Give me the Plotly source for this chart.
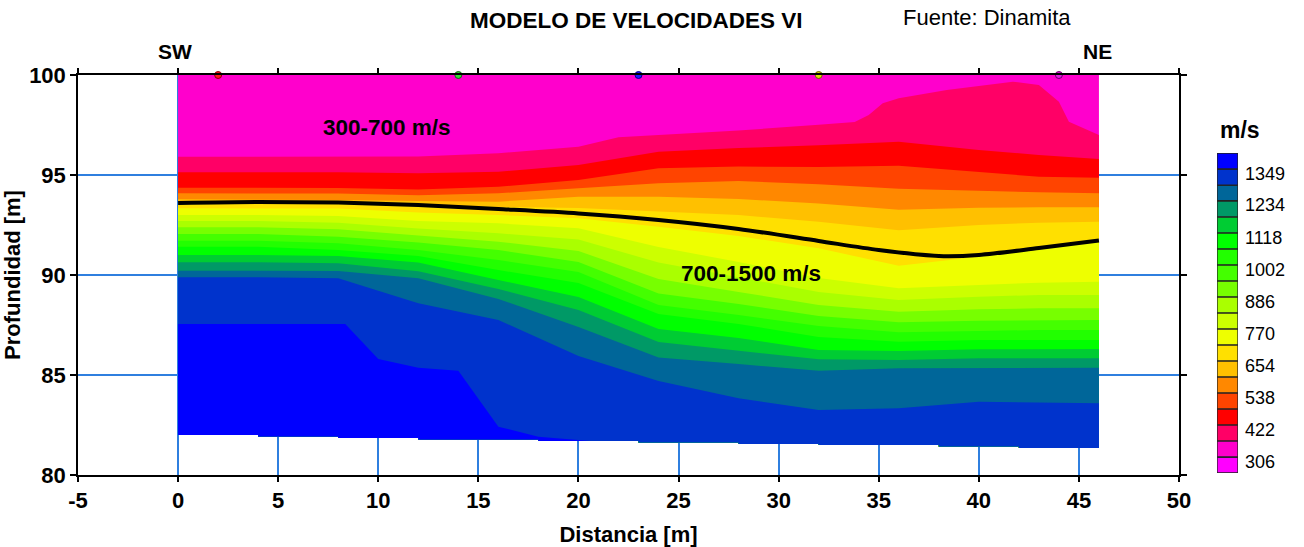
import plotly.graph_objects as go

# ---------------- data ----------------
# stations along the profile (m) shared by most iso-velocity interfaces
station_x = [0, 4, 8, 12, 16, 20, 24, 28, 32, 36, 40, 43, 46]

# depth (m) of each iso-velocity interface at the stations
iface_422 = [95.135, 95.135, 95.135, 95.085, 95.165, 95.5, 96.165, 96.35, 96.485, 96.665, 96.25, 96.0, 95.8]
iface_480 = [94.365, 94.365, 94.35, 94.275, 94.415, 94.75, 95.335, 95.425, 95.4, 95.465, 95.165, 94.915, 94.865]
iface_538 = [94.085, 94.085, 94.075, 93.985, 94.085, 94.335, 94.585, 94.7, 94.535, 94.315, 94.2, 94.135, 94.085]
iface_596 = [93.785, 93.785, 93.75, 93.7, 93.665, 93.915, 93.915, 93.8, 93.575, 93.265, 93.365, 93.385, 93.385]
iface_654 = [93.65, 93.65, 93.625, 93.55, 93.4, 93.35, 93.165, 93.0, 92.665, 92.235, 92.5, 92.615, 92.665]
iface_712 = [93.335, 93.335, 93.325, 93.125, 93.0, 92.835, 92.415, 91.95, 91.335, 90.465, 90.915, 91.415, 91.665]
iface_770 = [93.0, 93.0, 92.95, 92.7, 92.585, 92.335, 91.4, 90.65, 89.85, 89.335, 89.5, 89.615, 89.665]
iface_828 = [92.7, 92.7, 92.615, 92.325, 92.085, 91.775, 90.625, 89.9, 89.15, 88.75, 88.915, 89.0, 89.0]
iface_886 = [92.385, 92.385, 92.285, 91.975, 91.665, 91.2, 89.8, 89.15, 88.5, 88.165, 88.285, 88.335, 88.335]
iface_944 = [92.05, 92.05, 91.915, 91.625, 91.25, 90.65, 89.075, 88.55, 87.95, 87.635, 87.715, 87.75, 87.75]
iface_1002 = [91.715, 91.715, 91.585, 91.25, 90.75, 90.15, 88.5, 88.0, 87.45, 87.135, 87.2, 87.25, 87.25]
iface_1060 = [91.415, 91.415, 91.25, 90.95, 90.25, 89.6, 88.05, 87.55, 86.9, 86.665, 86.75, 86.75, 86.75]
iface_1118 = [91.0, 91.0, 90.95, 90.625, 89.75, 88.9, 87.3, 86.85, 86.25, 86.2, 86.285, 86.3, 86.3]
iface_1176 = [90.635, 90.635, 90.585, 90.185, 89.3, 88.25, 86.65, 86.215, 85.785, 85.75, 85.835, 85.835, 85.835]
iface_1234 = [90.215, 90.215, 90.2, 89.835, 88.8, 87.4, 85.875, 85.55, 85.215, 85.335, 85.35, 85.365, 85.365]
iface_1291 = [89.885, 89.885, 89.835, 88.585, 87.75, 85.95, 84.7, 83.835, 83.25, 83.335, 83.665, 83.615, 83.585]

# interfaces with their own stations
iface_364_x = [0, 8, 12, 16, 20, 22, 24, 28, 32, 33.8, 34.5, 35.2, 36, 38.4, 41.7, 43, 44, 44.5, 46]
iface_364 = [95.915, 95.915, 95.925, 96.085, 96.415, 96.885, 97.0, 97.225, 97.515, 97.65, 98.0,
             98.585, 98.835, 99.25, 99.665, 99.5, 98.665, 97.665, 97.0]
iface_1349_x = [0, 8.35, 10, 12, 14, 16, 18, 20.6]
iface_1349 = [87.55, 87.55, 85.8, 85.365, 85.215, 82.415, 81.915, 81.7]

# stepped bottom of the model
bottom_x = [0, 4, 8, 12, 18, 23, 28, 32, 38, 42, 46]
bottom_depth = [82.0, 81.92, 81.85, 81.78, 81.7, 81.63, 81.55, 81.5, 81.43, 81.35]
top_depth = 100

# 700 m/s refractor (black line)
refractor_x = [0, 4, 8, 12, 16, 20, 24, 28, 32, 35, 38, 40, 43, 46]
refractor_depth = [93.6, 93.65, 93.62, 93.5, 93.3, 93.08, 92.75, 92.3, 91.7, 91.25, 90.95, 91.0, 91.35, 91.72]

# shot points
shot_x = [2, 14, 23, 32, 44]
shot_colors = ['#ff1a1a', '#33dd33', '#1a1aff', '#dddd00', '#dd22dd']
shot_edges = ['#880000', '#116611', '#000088', '#666600', '#660066']

# colour scale (m/s)
cb_levels = [248, 306, 364, 422, 480, 538, 596, 654, 712, 770, 828, 886, 944, 1002,
             1060, 1118, 1176, 1234, 1291, 1349, 1407]
cb_colors = ['#FF00FF', '#FF00CC', '#FF0066', '#FF0000', '#FF4400', '#FF8800', '#FFC000',
             '#FFE000', '#EEFF00', '#CCFF00', '#AAFF00', '#77FF00', '#44FF00', '#22FF00',
             '#00FF00', '#00CC33', '#009966', '#006699', '#0033CC', '#0000FF']
cb_labels = [306, 422, 538, 654, 770, 886, 1002, 1118, 1234, 1349]

# axis ticks
x_ticks = [-5, 0, 5, 10, 15, 20, 25, 30, 35, 40, 45, 50]
y_ticks = [80, 85, 90, 95, 100]

# ---------------- build figure ----------------
FONT = 'Liberation Sans, Arial, sans-serif'
FS = 22


def bottom_between(xa, xb):
    pts = []
    for i in range(len(bottom_x) - 1):
        lo = max(bottom_x[i], xa)
        hi = min(bottom_x[i + 1], xb)
        if lo < hi:
            pts += [(lo, bottom_depth[i]), (hi, bottom_depth[i])]
    return pts


def band_polygon(xs, ds):
    bot = bottom_between(xs[0], xs[-1])[::-1]
    return list(xs) + [p[0] for p in bot], list(ds) + [p[1] for p in bot]


def color_of(v):
    return cb_colors[cb_levels.index(v)]


layers = [
    (306, [station_x[0], station_x[-1]], [top_depth, top_depth]),
    (364, iface_364_x, iface_364),
    (422, station_x, iface_422), (480, station_x, iface_480), (538, station_x, iface_538),
    (596, station_x, iface_596), (654, station_x, iface_654), (712, station_x, iface_712),
    (770, station_x, iface_770), (828, station_x, iface_828), (886, station_x, iface_886),
    (944, station_x, iface_944), (1002, station_x, iface_1002), (1060, station_x, iface_1060),
    (1118, station_x, iface_1118), (1176, station_x, iface_1176), (1234, station_x, iface_1234),
    (1291, station_x, iface_1291), (1349, iface_1349_x, iface_1349),
]

fig = go.Figure()
for v, xs, ds in layers:
    px, py = band_polygon(xs, ds)
    fig.add_trace(go.Scatter(x=px, y=py, mode='lines', fill='toself', fillcolor=color_of(v),
                             line=dict(width=0, color=color_of(v)), hoverinfo='skip',
                             showlegend=False))

fig.add_trace(go.Scatter(x=refractor_x, y=refractor_depth, mode='lines',
                         line=dict(color='black', width=4, shape='spline', smoothing=0.8),
                         showlegend=False, hoverinfo='skip'))

fig.add_trace(go.Scatter(x=shot_x, y=[top_depth] * len(shot_x), mode='markers', cliponaxis=False,
                         marker=dict(color=shot_colors, size=7, line=dict(color=shot_edges, width=1)),
                         showlegend=False))

# colour bar as a stacked column on its own axes
fig.add_trace(go.Bar(x=['cb'] * len(cb_colors), y=[cb_levels[i + 1] - cb_levels[i] for i in range(len(cb_colors))],
                     base=cb_levels[:-1], width=1, marker=dict(color=cb_colors, line=dict(color='#222222', width=1.3)),
                     xaxis='x2', yaxis='y2', showlegend=False, hoverinfo='skip'))

GRID = '#2f7fdf'
tickfont = dict(family=FONT, size=FS, color='black', weight='bold')
label_shift = 16  # labels sit slightly below the box boundaries in the reference
fig.update_layout(
    width=1304, height=547,
    margin=dict(l=78, r=10, t=75, b=72),
    paper_bgcolor='white', plot_bgcolor='white',
    font=dict(family=FONT, color='black'),
    barmode='overlay',
    xaxis=dict(domain=[0, 0.90543], range=[-5, 50], tickvals=x_ticks, ticktext=[str(v) for v in x_ticks],
               automargin=False,
               showgrid=True, gridcolor=GRID, gridwidth=1.5, zeroline=False,
               showline=True, linecolor='black', linewidth=1.5, mirror='allticks',
               ticks='outside', ticklen=5, tickcolor='black', tickwidth=1.5, tickfont=tickfont,
               title=dict(text='<b>Distancia [m]</b>', font=dict(family=FONT, size=FS), standoff=16)),
    yaxis=dict(domain=[0, 1], range=[80, 100], tickvals=y_ticks, ticktext=[str(v) for v in y_ticks],
               automargin=False,
               showgrid=True, gridcolor=GRID, gridwidth=1.5, zeroline=False,
               showline=True, linecolor='black', linewidth=1.5, mirror='allticks',
               ticks='outside', ticklen=6, tickcolor='black', tickwidth=1.5, tickfont=tickfont,
               title=dict(text='<b>Profundidad [m]</b>', font=dict(family=FONT, size=FS), standoff=10)),
    xaxis2=dict(domain=[0.93668, 0.95395], anchor='y2', range=[-0.5, 0.5], showgrid=False, automargin=False,
                zeroline=False, showticklabels=False, showline=False, fixedrange=True),
    yaxis2=dict(domain=[0.005, 0.805], anchor='x2', side='right', range=[cb_levels[0], cb_levels[-1]],
                showgrid=False, zeroline=False, showline=False, ticks='', automargin=False,
                tickvals=[v - label_shift for v in cb_labels], ticktext=[str(v) for v in cb_labels],
                ticklabelstandoff=6, tickfont=dict(family=FONT, size=18, color='black')),
)

data_ann = [
    dict(text='<b>300-700 m/s</b>', x=10.45, y=97.4),
    dict(text='<b>700-1500 m/s</b>', x=28.64, y=90.1),
]
for a in data_ann:
    fig.add_annotation(text=a['text'], x=a['x'], y=a['y'], xref='x', yref='y', showarrow=False,
                       font=dict(family=FONT, size=FS + 0.5, color='black'),
                       xanchor='center', yanchor='middle')

paper_ann = [
    dict(text='<b>MODELO DE VELOCIDADES VI</b>', x=0.4589, y=1.1375, size=FS + 0.5),
    dict(text='Fuente: Dinamita', x=0.7475, y=1.1425, size=FS),
    dict(text='<b>SW</b>', x=0.0798, y=1.0575, size=FS - 1),
    dict(text='<b>NE</b>', x=0.838, y=1.0575, size=FS - 1),
    dict(text='<b>m/s</b>', x=0.9556, y=0.8625, size=FS + 1),
]
for a in paper_ann:
    fig.add_annotation(text=a['text'], x=a['x'], y=a['y'], xref='paper', yref='paper', showarrow=False,
                       font=dict(family=FONT, size=a['size'], color='black'),
                       xanchor='center', yanchor='middle')

fig.write_html('out.html')
